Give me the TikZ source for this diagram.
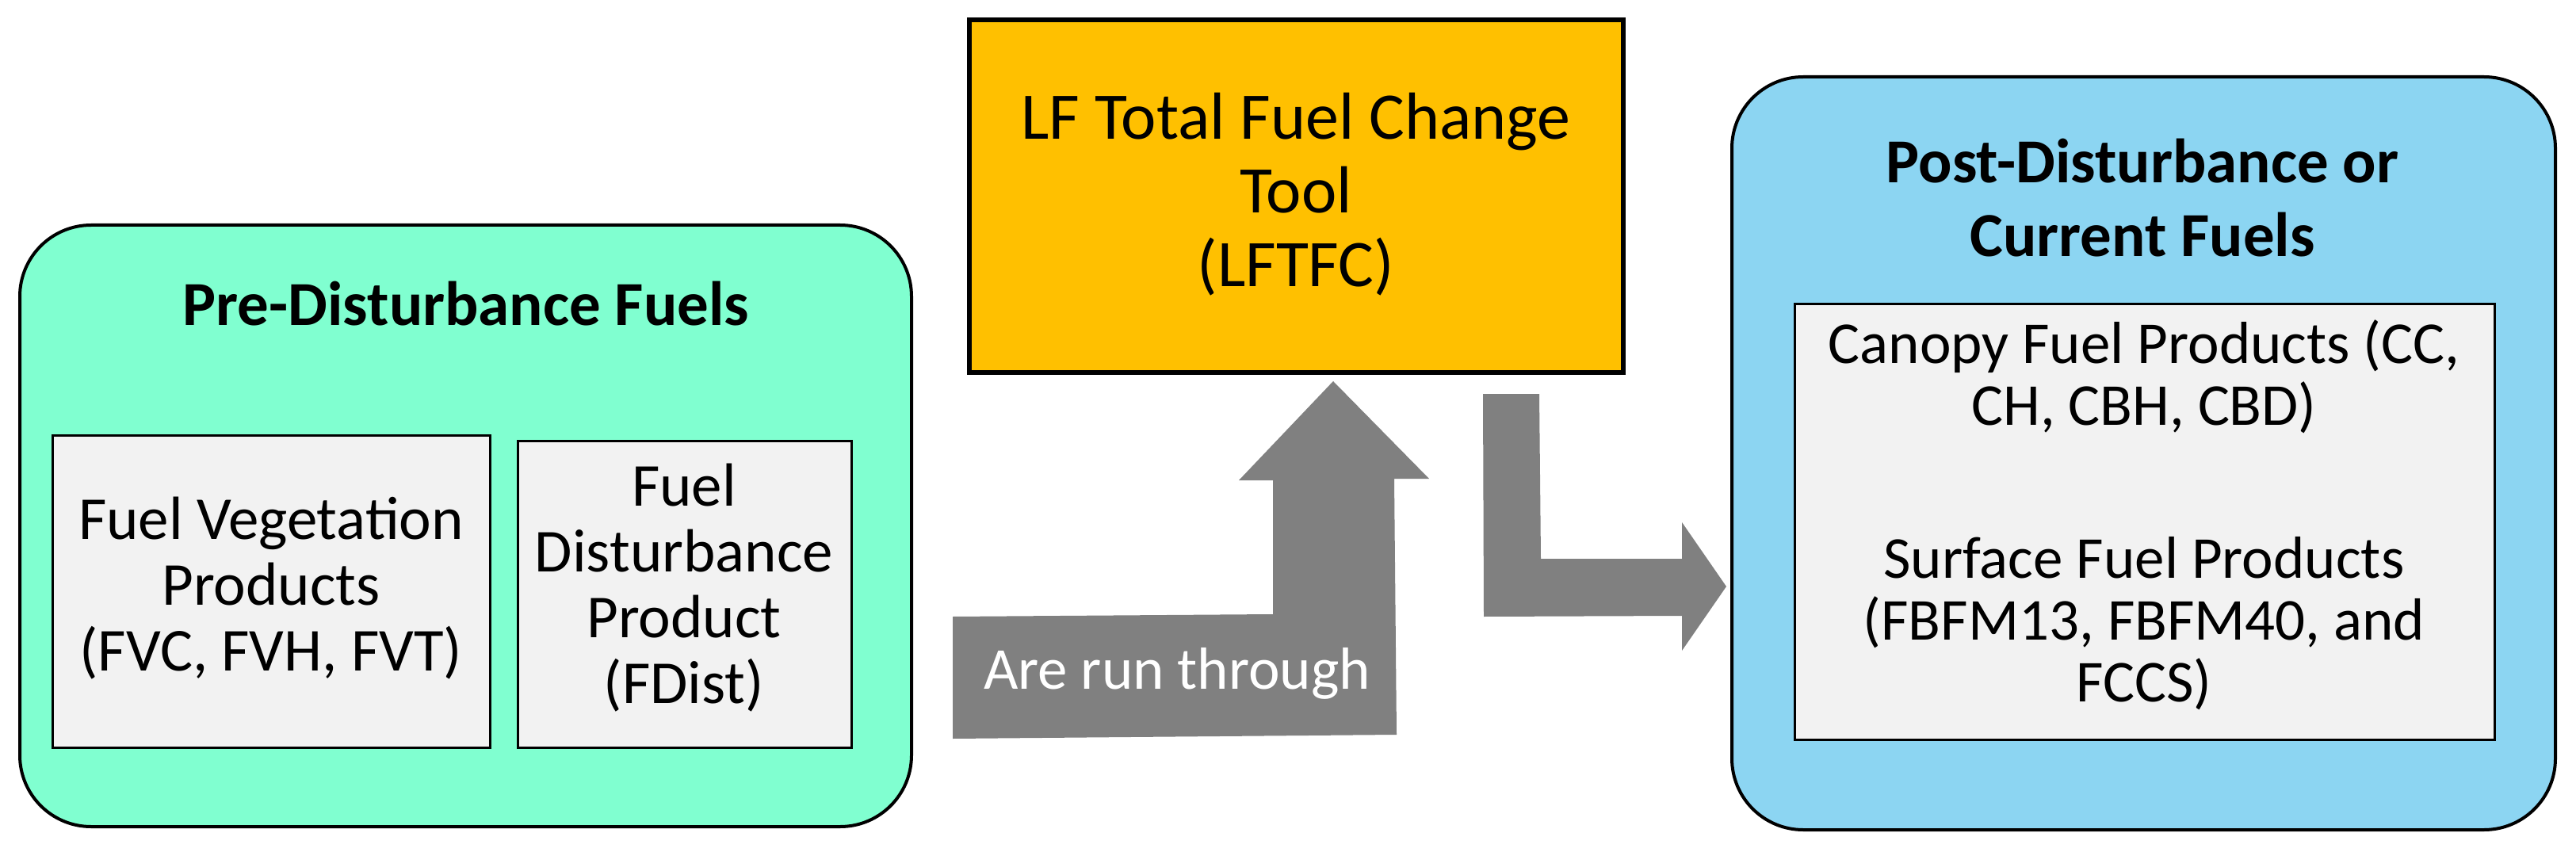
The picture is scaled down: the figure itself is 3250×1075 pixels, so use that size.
\documentclass[tikz,border=0pt]{standalone}
\usepackage{fontspec}
\setmainfont{Carlito}
\definecolor{grn}{HTML}{80FFD0}
\definecolor{blu}{HTML}{8CD5F2}
\definecolor{yel}{HTML}{FFC000}
\definecolor{gry}{HTML}{F2F2F2}
\definecolor{arr}{HTML}{808080}
\begin{document}
\begin{tikzpicture}[x=1pt,y=-1pt,
  outer/.style={draw=black,line width=4pt,rounded corners=90pt},
  inner/.style={draw=black,line width=3pt,fill=gry},
  txt/.style={align=center,font=\fontsize{77}{83}\selectfont},
  ttl/.style={align=center,font=\fontsize{79}{93}\selectfont\bfseries}]
\useasboundingbox (0,0) rectangle (3250,1075);
\draw[outer,fill=grn] (25,284) rectangle (1150,1043);
\node[ttl] (t1) at (588,383) {Pre-Disturbance Fuels};
\draw[inner] (66,549) rectangle (618,943);
\node[txt] (a) at (342,742) {Fuel Vegetation\\Products\\(FVC, FVH, FVT)};
\draw[inner] (653,556) rectangle (1074,943);
\node[txt] (b) at (863,742) {Fuel\\Disturbance\\Product\\(FDist)};
\draw[draw=black,line width=6pt,fill=yel] (1223,25) rectangle (2048,470);
\node[align=center,font=\fontsize{84}{93}\selectfont] (y) at (1635,245) {LF Total Fuel Change\\Tool\\(LFTFC)};
\draw[outer,fill=blu] (2185,97) rectangle (3224,1047);
\node[ttl] (t2) at (2703,250) {Post-Disturbance or\\Current Fuels};
\draw[inner] (2264,383) rectangle (3147,933);
\node[align=center,font=\fontsize{75}{78}\selectfont] (c) at (2705,650) {Canopy Fuel Products (CC,\\CH, CBH, CBD)\\[115pt]Surface Fuel Products\\(FBFM13, FBFM40, and\\FCCS)};
\fill[arr] (1202,778) -- (1606,775) -- (1606,606) -- (1563,606) -- (1682,481) -- (1803,604) -- (1759,604) -- (1762,927) -- (1202,932) -- cycle;
\node[text=white,font=\fontsize{75}{80}\selectfont] (r) at (1485,850) {Are run through};
\fill[arr] (1871,497) -- (1942,497) -- (1944,705) -- (2122,705) -- (2122,659) -- (2178,740) -- (2122,821) -- (2122,777) -- (1872,778) -- cycle;
\end{tikzpicture}
\end{document}
